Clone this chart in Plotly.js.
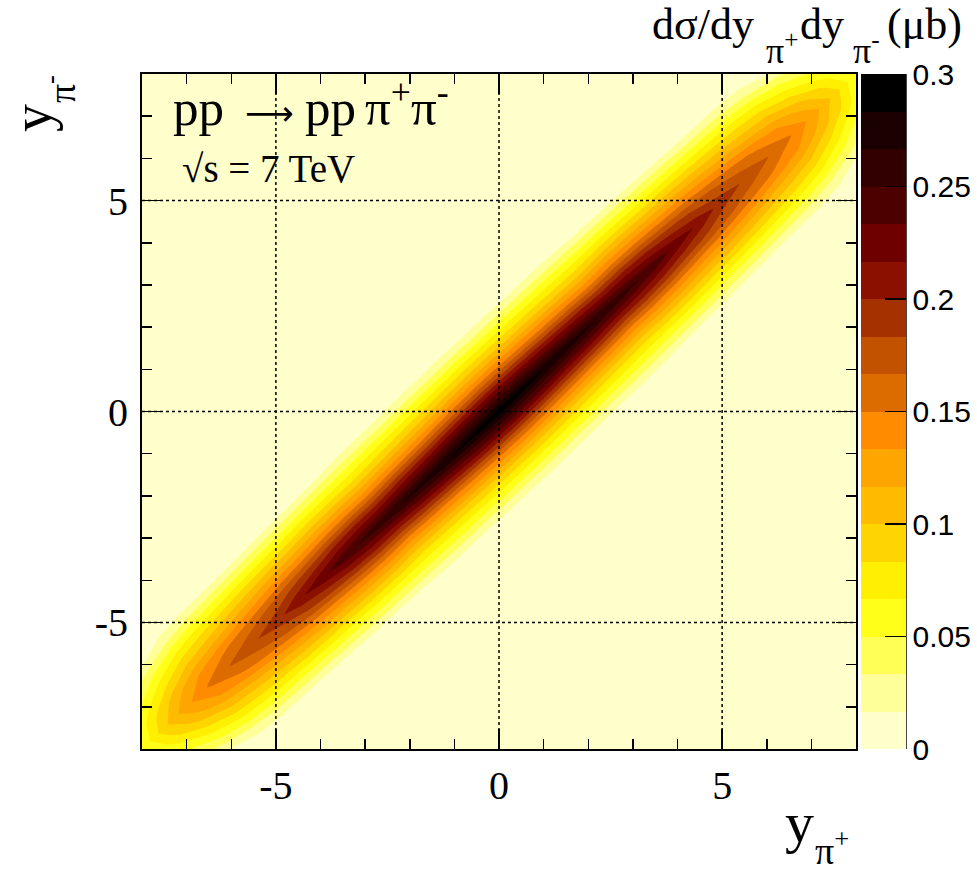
<!DOCTYPE html>
<html>
<head>
<meta charset="utf-8">
<script src="https://cdn.plot.ly/plotly-3.0.1.min.js"></script>
<style>html,body{margin:0;padding:0;background:#fff;}#chart{width:977px;height:872px;}</style>
</head>
<body>
<div id="chart"></div>
<script>
// centre rapidity u = (y_pi+ + y_pi-)/2 and difference d = y_pi- - y_pi+
const uVals = [-8,-7.5,-7,-6.5,-6,-5.5,-5,-4.5,-4,-3.5,-3,-2.5,-2,-1.5,-1,-0.5,0,0.5,1,1.5,2,2.5,3,3.5,4,4.5,5,5.5,6,6.5,7,7.5,8];
const dVals = [-3,-2.5,-2,-1.5,-1,-0.5,0,0.5,1,1.5,2,2.5,3];
// d sigma / dy+ dy- (microbarn); one row per u value, columns follow dVals
const xsecRows = [
  [0,0,0.004,0.012,0.025,0.040,0.050,0.040,0.025,0.012,0.004,0,0],
  [0,0,0.008,0.029,0.052,0.078,0.095,0.078,0.052,0.029,0.008,0,0],
  [0,0.003,0.015,0.049,0.079,0.109,0.128,0.109,0.079,0.049,0.015,0.003,0],
  [0,0.005,0.030,0.067,0.100,0.132,0.152,0.132,0.100,0.067,0.030,0.005,0],
  [0,0.007,0.039,0.076,0.109,0.146,0.168,0.146,0.109,0.076,0.039,0.007,0],
  [0,0.007,0.042,0.081,0.118,0.157,0.181,0.157,0.118,0.081,0.042,0.007,0],
  [0,0.008,0.045,0.086,0.126,0.167,0.193,0.167,0.126,0.086,0.045,0.008,0],
  [0,0.010,0.048,0.090,0.133,0.179,0.212,0.179,0.133,0.090,0.048,0.010,0],
  [0,0.013,0.050,0.092,0.137,0.188,0.228,0.188,0.137,0.092,0.050,0.013,0],
  [0,0.014,0.053,0.096,0.143,0.198,0.244,0.198,0.143,0.096,0.053,0.014,0],
  [0,0.016,0.054,0.097,0.146,0.204,0.254,0.204,0.146,0.097,0.054,0.016,0],
  [0,0.018,0.055,0.094,0.144,0.204,0.262,0.204,0.144,0.094,0.055,0.018,0],
  [0,0.019,0.057,0.097,0.149,0.211,0.270,0.211,0.149,0.097,0.057,0.019,0],
  [0,0.019,0.058,0.100,0.152,0.216,0.277,0.216,0.152,0.100,0.058,0.019,0],
  [0,0.020,0.060,0.102,0.156,0.222,0.284,0.222,0.156,0.102,0.060,0.020,0],
  [0,0.020,0.061,0.105,0.160,0.227,0.291,0.227,0.160,0.105,0.061,0.020,0],
  [0,0.021,0.062,0.106,0.162,0.230,0.295,0.230,0.162,0.106,0.062,0.021,0],
  [0,0.020,0.061,0.105,0.160,0.227,0.291,0.227,0.160,0.105,0.061,0.020,0],
  [0,0.020,0.060,0.102,0.156,0.222,0.284,0.222,0.156,0.102,0.060,0.020,0],
  [0,0.019,0.058,0.100,0.152,0.216,0.277,0.216,0.152,0.100,0.058,0.019,0],
  [0,0.019,0.057,0.097,0.149,0.211,0.270,0.211,0.149,0.097,0.057,0.019,0],
  [0,0.018,0.055,0.094,0.144,0.204,0.262,0.204,0.144,0.094,0.055,0.018,0],
  [0,0.016,0.054,0.097,0.146,0.204,0.254,0.204,0.146,0.097,0.054,0.016,0],
  [0,0.014,0.053,0.096,0.143,0.198,0.244,0.198,0.143,0.096,0.053,0.014,0],
  [0,0.013,0.050,0.092,0.137,0.188,0.228,0.188,0.137,0.092,0.050,0.013,0],
  [0,0.010,0.048,0.090,0.133,0.179,0.212,0.179,0.133,0.090,0.048,0.010,0],
  [0,0.008,0.045,0.086,0.126,0.167,0.193,0.167,0.126,0.086,0.045,0.008,0],
  [0,0.007,0.042,0.081,0.118,0.157,0.181,0.157,0.118,0.081,0.042,0.007,0],
  [0,0.007,0.039,0.076,0.109,0.146,0.168,0.146,0.109,0.076,0.039,0.007,0],
  [0,0.005,0.030,0.067,0.100,0.132,0.152,0.132,0.100,0.067,0.030,0.005,0],
  [0,0.003,0.015,0.049,0.079,0.109,0.128,0.109,0.079,0.049,0.015,0.003,0],
  [0,0,0.008,0.029,0.052,0.078,0.095,0.078,0.052,0.029,0.008,0,0],
  [0,0,0.004,0.012,0.025,0.040,0.050,0.040,0.025,0.012,0.004,0,0]
];
const axisTickVals = [-5,0,5];
const axisTickText = ['-5','0','5'];
const cbTickVals = [0,0.05,0.1,0.15,0.2,0.25,0.3];
const cbTickText = ['0','0.05','0.1','0.15','0.2','0.25','0.3'];
const paletteColors = ['#ffffcc','#ffff99','#ffff55','#ffff1a','#ffef00','#ffd500','#ffbb00','#ffa500','#ff8c00',
  '#dd6c00','#c25200','#a53000','#8c1000','#6e0000','#4d0000','#330000','#1a0000','#000000'];

// carpet geometry: (u, d) -> (y_pi+, y_pi-)
const carpetX = dVals.map(d => uVals.map(u => u - d / 2));
const carpetY = dVals.map(d => uVals.map(u => u + d / 2));
// z indexed [d][u] for the library
const zTable = dVals.map((d, j) => uVals.map((u, i) => xsecRows[i][j]));

const nLev = paletteColors.length;
const step = 0.3 / nLev;
const colorscale = paletteColors.map((c, i) => [i / (nLev - 1), c]);

const serif = 'Liberation Serif, Times New Roman, serif';
const sans = 'Liberation Sans, Arial, sans-serif';

const hiddenCarpetAxis = {
  showgrid: false, showline: false, showticklabels: 'none', startline: false, endline: false,
  minorgridcount: 0, gridcolor: 'rgba(0,0,0,0)', linecolor: 'rgba(0,0,0,0)',
  startlinecolor: 'rgba(0,0,0,0)', endlinecolor: 'rgba(0,0,0,0)', smoothing: 0
};

const carpet = {
  type: 'carpet', carpet: 'rap', a: uVals, b: dVals, x: carpetX, y: carpetY,
  aaxis: hiddenCarpetAxis, baxis: hiddenCarpetAxis, hoverinfo: 'skip'
};

const contour = {
  type: 'contourcarpet', carpet: 'rap', a: uVals, b: dVals, z: zTable,
  zmin: 0, zmax: 0.3, autocontour: false,
  contours: {start: step, end: 0.3 - step, size: step, coloring: 'fill', showlines: false},
  line: {width: 0, smoothing: 0},
  colorscale: colorscale,
  colorbar: {
    x: 1.007, xanchor: 'left', xpad: 0, thickness: 45,
    y: 0.5, yanchor: 'middle', len: 1, ypad: 0,
    outlinewidth: 0, ticks: 'inside', ticklen: 21, tickwidth: 1.5, tickcolor: '#000',
    tickmode: 'array', tickvals: cbTickVals, ticktext: cbTickText,
    tickfont: {family: sans, size: 30, color: '#000'}
  },
  hoverinfo: 'skip'
};

const shapes = [];
axisTickVals.forEach(v => {
  shapes.push({type: 'line', xref: 'x', yref: 'paper', x0: v, x1: v, y0: 0, y1: 1, layer: 'above',
    line: {color: '#000', width: 1.5, dash: 'dot'}});
  shapes.push({type: 'line', xref: 'paper', yref: 'y', x0: 0, x1: 1, y0: v, y1: v, layer: 'above',
    line: {color: '#000', width: 1.5, dash: 'dot'}});
});
shapes.push({type: 'line', xref: 'paper', yref: 'paper', x0: 1.070, x1: 1.070, y0: 0, y1: 1, layer: 'above',
  line: {color: '#000', width: 1.5}});

const axisCommon = {
  range: [-8, 8], showgrid: false, zeroline: false,
  showline: true, linecolor: '#000', linewidth: 2, mirror: 'ticks',
  ticks: 'inside', ticklen: 20, tickwidth: 1.5, tickcolor: '#000',
  tickmode: 'array', tickvals: axisTickVals, ticktext: axisTickText,
  minor: {tickmode: 'linear', tick0: 0, dtick: 1, ticks: 'inside', ticklen: 10, tickwidth: 1.5, tickcolor: '#000', showgrid: false},
  tickfont: {family: serif, size: 40, color: '#000'}
};

function txt(text, x, y, size, opts) {
  return Object.assign({xref: 'paper', yref: 'paper', x: x, y: y, xanchor: 'left', yanchor: 'bottom',
    showarrow: false, text: text, font: {family: serif, size: size, color: '#000'}}, opts || {});
}

const layout = {
  width: 977, height: 872,
  margin: {l: 142, r: 121, t: 74, b: 123, autoexpand: false},
  paper_bgcolor: '#fff', plot_bgcolor: '#ffffcc',
  xaxis: Object.assign({}, axisCommon),
  yaxis: Object.assign({}, axisCommon, {ticklabelstandoff: 4}),
  showlegend: false,
  shapes: shapes,
  annotations: [
    // colour-bar title
    txt('dσ/dy', 0.7115, 1.0341, 44),
    txt('π<sup>+</sup>', 0.8711, 1.0018, 36),
    txt('dy', 0.9188, 1.0341, 44),
    txt('π<sup>-</sup>', 0.9930, 1.0018, 36),
    txt('(μb)', 1.0406, 1.0341, 44),
    // process label
    txt('pp', 0.0406, 0.9045, 51),
    txt('⟶', 0.1779, 0.9422, 34, {xanchor: 'center', yanchor: 'middle', font: {family: 'DejaVu Sans', size: 34, color: '#000'}}),
    txt('pp', 0.2255, 0.9045, 51),
    txt('π<sup>+</sup>π<sup>-</sup>', 0.3095, 0.9045, 51),
    txt('√s = 7 TeV', 0.0532, 0.8246, 39),
    // x axis title
    txt('y', 0.8978, -0.16, 58),
    txt('π<sup>+</sup>', 0.9398, -0.1855, 38),
    // y axis title
    txt('y', -0.108, 0.9111, 56, {textangle: -90, xanchor: 'right', yanchor: 'bottom'}),
    txt('π<sup>-</sup>', -0.0798, 0.954, 38, {textangle: -90, xanchor: 'right', yanchor: 'bottom'})
  ]
};

Plotly.newPlot('chart', [carpet, contour], layout, {displayModeBar: false, staticPlot: true});
</script>
</body>
</html>
